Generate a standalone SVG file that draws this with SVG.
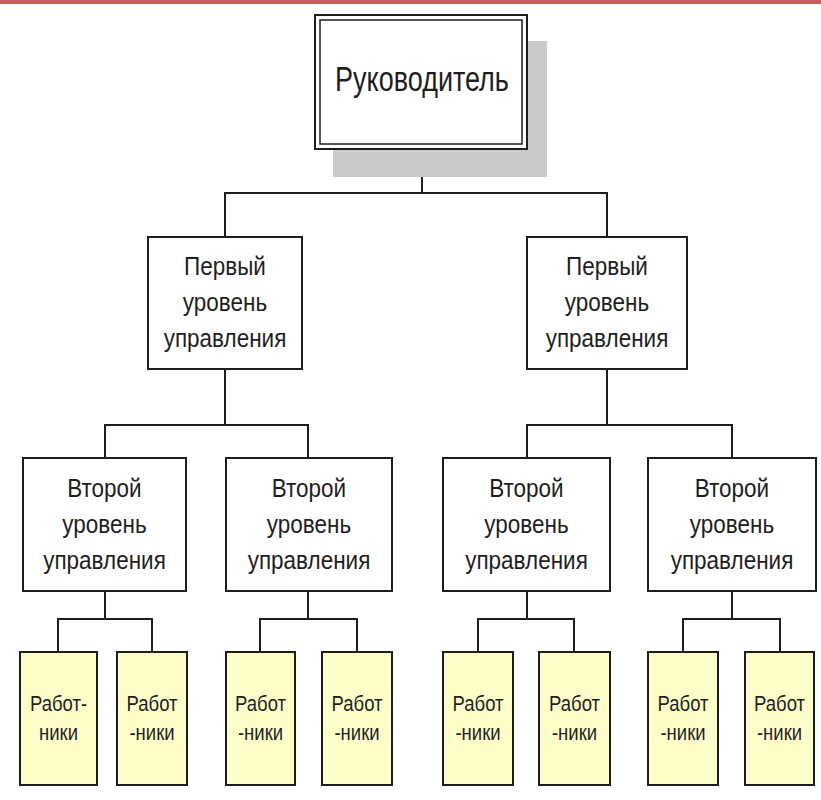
<svg xmlns="http://www.w3.org/2000/svg" width="821" height="800" viewBox="0 0 821 800">
<style>
.box{fill:#fff;stroke:#1e1e1e;stroke-width:2}
.wk{fill:#fefecb;stroke:#1e1e1e;stroke-width:2}
.c line{stroke:#1e1e1e;stroke-width:2}
text{font-family:"Liberation Sans",Arial,sans-serif;fill:#1e1e1e;text-anchor:middle}
.t1{font-size:22.5px}
.t0{font-size:27px}
.t2{font-size:18.5px}
</style>
<rect x="0" y="0" width="821" height="4" fill="#c6605a"/>
<g class="c" id="connectors">
<line x1="422" y1="149" x2="422" y2="193"/>
<line x1="224" y1="193" x2="608" y2="193"/>
<line x1="225" y1="193" x2="225" y2="237"/>
<line x1="607" y1="193" x2="607" y2="237"/>
<line x1="225" y1="369" x2="225" y2="425"/>
<line x1="104" y1="425" x2="309" y2="425"/>
<line x1="105" y1="425" x2="105" y2="458"/>
<line x1="308" y1="425" x2="308" y2="458"/>
<line x1="607" y1="369" x2="607" y2="425"/>
<line x1="526" y1="425" x2="733" y2="425"/>
<line x1="527" y1="425" x2="527" y2="458"/>
<line x1="732" y1="425" x2="732" y2="458"/>
<line x1="105" y1="591" x2="105" y2="619"/>
<line x1="308" y1="591" x2="308" y2="619"/>
<line x1="527" y1="591" x2="527" y2="619"/>
<line x1="732" y1="591" x2="732" y2="619"/>
<line x1="57" y1="619" x2="153" y2="619"/>
<line x1="259" y1="619" x2="358" y2="619"/>
<line x1="477" y1="619" x2="575" y2="619"/>
<line x1="682" y1="619" x2="781" y2="619"/>
<line x1="58" y1="619" x2="58" y2="652"/>
<line x1="152" y1="619" x2="152" y2="652"/>
<line x1="260" y1="619" x2="260" y2="652"/>
<line x1="357" y1="619" x2="357" y2="652"/>
<line x1="478" y1="619" x2="478" y2="652"/>
<line x1="574" y1="619" x2="574" y2="652"/>
<line x1="683" y1="619" x2="683" y2="652"/>
<line x1="780" y1="619" x2="780" y2="652"/>
</g>
<g id="root">
<rect x="333" y="41" width="214" height="136" fill="#cbcbcb"/>
<rect x="315" y="15" width="212" height="134" fill="#fff" stroke="#1e1e1e" stroke-width="2"/>
<rect x="320" y="20" width="202" height="124" fill="none" stroke="#1e1e1e" stroke-width="1.5"/>
<text class="t0" transform="translate(422 91) scale(1 1.33)">Руководитель</text>
</g>
<g id="l1a">
<rect class="box" x="148" y="237" width="154" height="132"/>
<text class="t1" transform="translate(225 275) scale(1 1.11)">Первый</text>
<text class="t1" transform="translate(225 311) scale(1 1.11)">уровень</text>
<text class="t1" transform="translate(225 347) scale(1 1.11)">управления</text>
</g>
<g id="l1b">
<rect class="box" x="527" y="237" width="160" height="132"/>
<text class="t1" transform="translate(607 275) scale(1 1.11)">Первый</text>
<text class="t1" transform="translate(607 311) scale(1 1.11)">уровень</text>
<text class="t1" transform="translate(607 347) scale(1 1.11)">управления</text>
</g>
<g id="l2a">
<rect class="box" x="23" y="458" width="163" height="133"/>
<text class="t1" transform="translate(104.5 497) scale(1 1.11)">Второй</text>
<text class="t1" transform="translate(104.5 533) scale(1 1.11)">уровень</text>
<text class="t1" transform="translate(104.5 569) scale(1 1.11)">управления</text>
</g>
<g id="l2b">
<rect class="box" x="226" y="458" width="166" height="133"/>
<text class="t1" transform="translate(309 497) scale(1 1.11)">Второй</text>
<text class="t1" transform="translate(309 533) scale(1 1.11)">уровень</text>
<text class="t1" transform="translate(309 569) scale(1 1.11)">управления</text>
</g>
<g id="l2c">
<rect class="box" x="443" y="458" width="167" height="133"/>
<text class="t1" transform="translate(526.5 497) scale(1 1.11)">Второй</text>
<text class="t1" transform="translate(526.5 533) scale(1 1.11)">уровень</text>
<text class="t1" transform="translate(526.5 569) scale(1 1.11)">управления</text>
</g>
<g id="l2d">
<rect class="box" x="648" y="458" width="168" height="133"/>
<text class="t1" transform="translate(732 497) scale(1 1.11)">Второй</text>
<text class="t1" transform="translate(732 533) scale(1 1.11)">уровень</text>
<text class="t1" transform="translate(732 569) scale(1 1.11)">управления</text>
</g>
<g id="w1">
<rect class="wk" x="20" y="652" width="77" height="133"/>
<text class="t2" transform="translate(58.5 711) scale(1 1.18)">Работ-</text>
<text class="t2" transform="translate(58.5 740) scale(1 1.18)">ники</text>
</g>
<g id="w2">
<rect class="wk" x="117" y="652" width="70" height="133"/>
<text class="t2" transform="translate(152 711) scale(1 1.18)">Работ</text>
<text class="t2" transform="translate(152 740) scale(1 1.18)">-ники</text>
</g>
<g id="w3">
<rect class="wk" x="226" y="652" width="69" height="133"/>
<text class="t2" transform="translate(260.5 711) scale(1 1.18)">Работ</text>
<text class="t2" transform="translate(260.5 740) scale(1 1.18)">-ники</text>
</g>
<g id="w4">
<rect class="wk" x="322" y="652" width="70" height="133"/>
<text class="t2" transform="translate(357 711) scale(1 1.18)">Работ</text>
<text class="t2" transform="translate(357 740) scale(1 1.18)">-ники</text>
</g>
<g id="w5">
<rect class="wk" x="443" y="652" width="70" height="133"/>
<text class="t2" transform="translate(478 711) scale(1 1.18)">Работ</text>
<text class="t2" transform="translate(478 740) scale(1 1.18)">-ники</text>
</g>
<g id="w6">
<rect class="wk" x="539" y="652" width="71" height="133"/>
<text class="t2" transform="translate(574.5 711) scale(1 1.18)">Работ</text>
<text class="t2" transform="translate(574.5 740) scale(1 1.18)">-ники</text>
</g>
<g id="w7">
<rect class="wk" x="648" y="652" width="70" height="133"/>
<text class="t2" transform="translate(683 711) scale(1 1.18)">Работ</text>
<text class="t2" transform="translate(683 740) scale(1 1.18)">-ники</text>
</g>
<g id="w8">
<rect class="wk" x="745" y="652" width="69" height="133"/>
<text class="t2" transform="translate(779.5 711) scale(1 1.18)">Работ</text>
<text class="t2" transform="translate(779.5 740) scale(1 1.18)">-ники</text>
</g>
</svg>
